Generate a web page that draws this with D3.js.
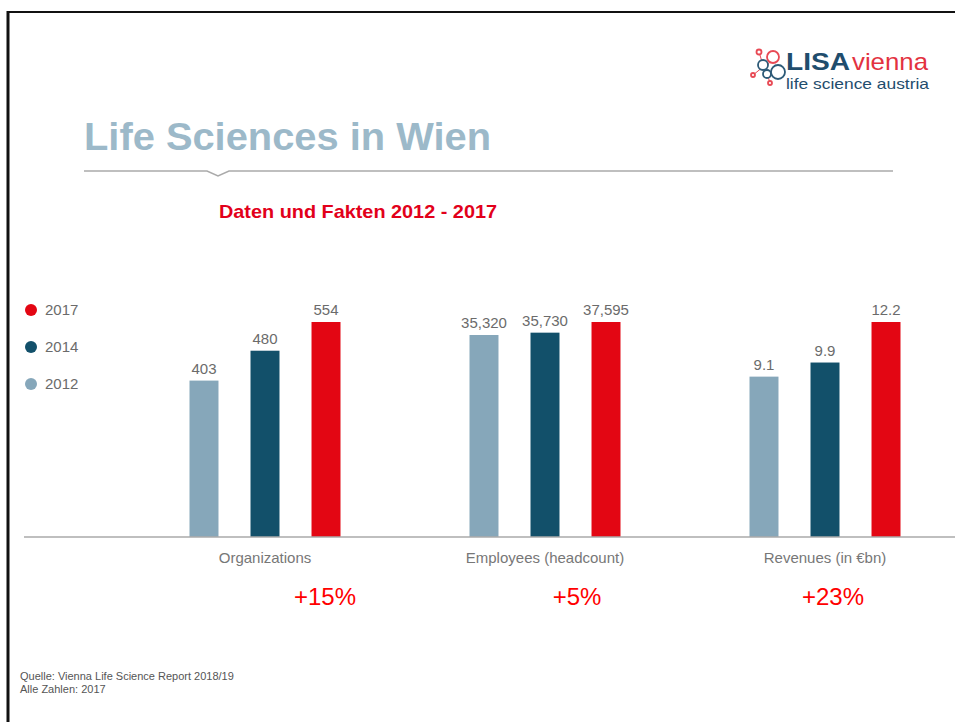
<!DOCTYPE html>
<html>
<head>
<meta charset="utf-8">
<script src="https://cdn.jsdelivr.net/npm/d3@7"></script>
<style>
  body { margin: 0; background: #fff; }
  text { font-family: "Liberation Sans", Arial, Helvetica, sans-serif; }
</style>
</head>
<body>
<svg width="955" height="722"></svg>
<script>
const svg = d3.select('svg');
const width = +svg.attr('width');
const height = +svg.attr('height');

// data
const categories = ['Organizations', 'Employees (headcount)', 'Revenues (in €bn)'];
const years = ['2012', '2014', '2017'];
const values2012 = [403, 35320, 9.1];
const values2014 = [480, 35730, 9.9];
const values2017 = [554, 37595, 12.2];
const valueLabels2012 = ['403', '35,320', '9.1'];
const valueLabels2014 = ['480', '35,730', '9.9'];
const valueLabels2017 = ['554', '37,595', '12.2'];
const growth = ['+15%', '+5%', '+23%'];
const legendYears = ['2017', '2014', '2012'];

const colors = { '2012': '#86a7ba', '2014': '#12506a', '2017': '#e30613' };

// frame
svg.append('line').attr('x1', 8).attr('x2', width).attr('y1', 12).attr('y2', 12)
   .attr('stroke', '#111').attr('stroke-width', 2);
svg.append('line').attr('x1', 8).attr('x2', 8).attr('y1', 11).attr('y2', height)
   .attr('stroke', '#111').attr('stroke-width', 3);

// title
svg.append('text').attr('x', 84).attr('y', 150)
   .attr('font-size', 39.5).attr('font-weight', 'bold').attr('fill', '#9cb9c9')
   .attr('textLength', 407).attr('lengthAdjust', 'spacingAndGlyphs')
   .text('Life Sciences in Wien');

// rule with small notch
svg.append('path')
   .attr('d', 'M84,171 L207,171 L218,176 L229,171 L893,171')
   .attr('fill', 'none').attr('stroke', '#aaa').attr('stroke-width', 1.5);

svg.append('text').attr('x', 219).attr('y', 218)
   .attr('font-size', 19).attr('font-weight', 'bold').attr('fill', '#e2001a')
   .attr('textLength', 278).attr('lengthAdjust', 'spacingAndGlyphs')
   .text('Daten und Fakten 2012 - 2017');

// logo
const logo = svg.append('g');
const links = [[759,52,763,65],[773,57,767,66],[753,75,763,67],[767,73,770,83],[763,65,767,73]];
logo.selectAll('line').data(links).enter().append('line')
   .attr('x1', d => d[0]).attr('y1', d => d[1]).attr('x2', d => d[2]).attr('y2', d => d[3])
   .attr('stroke', '#e84a55').attr('stroke-width', 1);
const nodes = [
  [759, 52, 2.5, '#e84a55'], [773, 57, 6, '#e84a55'], [753, 75, 2, '#e84a55'], [770, 83, 2, '#e84a55'],
  [763, 65, 5, '#2d5a77'], [767, 74, 4, '#2d5a77'], [778, 72, 7, '#2d5a77']
];
logo.selectAll('circle').data(nodes).enter().append('circle')
   .attr('cx', d => d[0]).attr('cy', d => d[1]).attr('r', d => d[2])
   .attr('fill', 'white').attr('stroke', d => d[3]).attr('stroke-width', 1.8);
logo.append('text').attr('x', 786).attr('y', 70).attr('font-size', 24)
   .attr('font-weight', 'bold').attr('fill', '#1f4d6d')
   .attr('textLength', 64).attr('lengthAdjust', 'spacingAndGlyphs')
   .text('LISA');
logo.append('text').attr('x', 852).attr('y', 70).attr('font-size', 24)
   .attr('fill', '#e3323f')
   .attr('textLength', 76).attr('lengthAdjust', 'spacingAndGlyphs')
   .text('vienna');
logo.append('text').attr('x', 786).attr('y', 89).attr('font-size', 15)
   .attr('fill', '#1f4d6d')
   .attr('textLength', 143).attr('lengthAdjust', 'spacingAndGlyphs')
   .text('life science austria');

// chart
const baseline = 537;
const barTop = 322;

const x0 = d3.scaleBand().domain(categories).range([125, 965]);
const x1 = d3.scaleBand().domain(years).range([-75.5, 75.5]).paddingInner(0.525).paddingOuter(0);

const rows = categories.map((c, i) => ({
  category: c,
  growth: growth[i],
  bars: [
    { year: '2012', value: values2012[i], label: valueLabels2012[i] },
    { year: '2014', value: values2014[i], label: valueLabels2014[i] },
    { year: '2017', value: values2017[i], label: valueLabels2017[i] }
  ]
}));

// each group is scaled on its own
rows.forEach(r => {
  r.y = d3.scaleLinear().domain([0, d3.max(r.bars, d => d.value)]).range([baseline, barTop]);
});

const growthOffset = [60, 32, 8];

const groups = svg.selectAll('g.group').data(rows).enter().append('g')
   .attr('class', 'group')
   .attr('transform', d => `translate(${x0(d.category) + x0.bandwidth() / 2},0)`);

groups.selectAll('rect').data(r => r.bars.map(b => ({ ...b, y: r.y }))).enter().append('rect')
   .attr('x', d => x1(d.year))
   .attr('width', x1.bandwidth())
   .attr('y', d => d.y(d.value))
   .attr('height', d => baseline - d.y(d.value))
   .attr('fill', d => colors[d.year]);

groups.selectAll('text.value').data(r => r.bars.map(b => ({ ...b, y: r.y }))).enter().append('text')
   .attr('class', 'value')
   .attr('x', d => x1(d.year) + x1.bandwidth() / 2)
   .attr('y', d => d.y(d.value) - 7)
   .attr('text-anchor', 'middle').attr('font-size', 15).attr('fill', '#6b6b6b')
   .text(d => d.label);

groups.append('text')
   .attr('x', 0).attr('y', 563)
   .attr('text-anchor', 'middle').attr('font-size', 15).attr('fill', '#777')
   .text(d => d.category);

groups.append('text')
   .attr('x', (d, i) => growthOffset[i]).attr('y', 605)
   .attr('text-anchor', 'middle').attr('font-size', 24).attr('fill', '#ff0000')
   .text(d => d.growth);

// baseline
svg.append('line').attr('x1', 24).attr('x2', width).attr('y1', baseline).attr('y2', baseline)
   .attr('stroke', '#aaa').attr('stroke-width', 1.5);

// legend
const legend = svg.append('g');
const ly = d3.scalePoint().domain(legendYears).range([310, 384]);
legend.selectAll('circle').data(legendYears).enter().append('circle')
   .attr('cx', 31).attr('cy', d => ly(d)).attr('r', 6).attr('fill', d => colors[d]);
legend.selectAll('text').data(legendYears).enter().append('text')
   .attr('x', 45).attr('y', d => ly(d) + 5).attr('font-size', 15).attr('fill', '#6b6b6b')
   .text(d => d);

// footer
svg.append('text').attr('x', 20).attr('y', 680).attr('font-size', 11).attr('fill', '#555')
   .text('Quelle: Vienna Life Science Report 2018/19');
svg.append('text').attr('x', 20).attr('y', 693).attr('font-size', 11).attr('fill', '#555')
   .text('Alle Zahlen: 2017');
</script>
</body>
</html>
